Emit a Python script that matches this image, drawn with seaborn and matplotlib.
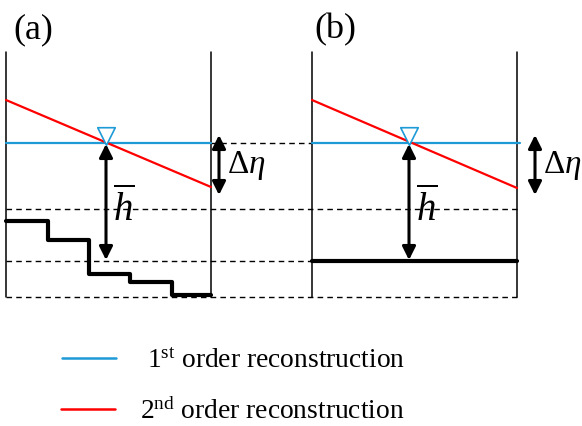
import seaborn as sns
import matplotlib.pyplot as plt
import numpy as np

# schematic coordinates in picture units (x right, y down)
walls_a = [6, 211]
walls_b = [312, 517]
wall_top, wall_bottom = 52, 297

eta_1st = 143                      # water level, 1st order reconstruction
eta_2nd_a = [100, 187]             # 2nd order, left and right face
eta_2nd_b = [100, 188]

cell_edges_a = [6, 48, 89, 130, 172, 211]
bed_a = [221, 240, 274, 282, 295]
bed_b = 261

dash_levels = [209, 261, 297]
h_arrow_x = [106, 409]
deta_arrow_x = [219, 535]
deta_range = [135, 195]

panel_labels = ["(a)", "(b)"]
legend_labels = ["1$^{\\mathrm{st}}$ order reconstruction",
                 "2$^{\\mathrm{nd}}$ order reconstruction"]

blue = "#1e9ad6"
red = "#ff0000"

sns.set_style("white")
plt.rcParams["font.family"] = ["Liberation Serif", "DejaVu Serif"]
plt.rcParams["text.color"] = "black"
plt.rcParams["mathtext.fontset"] = "custom"
plt.rcParams["mathtext.rm"] = "Liberation Serif"
plt.rcParams["mathtext.it"] = "Liberation Serif:italic"

fig = plt.figure(figsize=(5.82, 4.26), dpi=100)
ax = fig.add_axes([0, 0, 1, 1])
ax.set_xlim(0, 582)
ax.set_ylim(426, 0)
ax.axis("off")


def line(x, y, **kw):
    sns.lineplot(x=x, y=y, sort=False, estimator=None, ax=ax, **kw)


dash = dict(color="black", lw=1, linestyle=(0, (4, 3)))
# dashed reference levels
line([walls_a[1], walls_b[0]], [eta_1st, eta_1st], **dash)
line([walls_a[0], walls_b[1]], [dash_levels[0]] * 2, **dash)
line([walls_a[0], walls_b[0]], [dash_levels[1]] * 2, **dash)
line([walls_a[0], walls_b[1]], [dash_levels[2]] * 2, **dash)

arrow = dict(arrowstyle="<|-|>", color="black", lw=2.2,
             mutation_scale=20, shrinkA=0, shrinkB=0)
for walls, eta2, hx, dx in [(walls_a, eta_2nd_a, h_arrow_x[0], deta_arrow_x[0]),
                            (walls_b, eta_2nd_b, h_arrow_x[1], deta_arrow_x[1])]:
    for w in walls:
        line([w, w], [wall_top, wall_bottom], color="black", lw=1.1)
    line([walls[0], walls[1] + 3 * (walls is walls_b)], [eta_1st, eta_1st],
         color=blue, lw=1.6)
    line(walls, eta2, color=red, lw=1.6)
    ax.annotate("", xy=(hx, eta_1st + 1), xytext=(hx, dash_levels[1] - 1),
                arrowprops=arrow)
    ax.annotate("", xy=(dx, deta_range[0]), xytext=(dx, deta_range[1]),
                arrowprops=arrow)
    ax.text(hx + 18, dash_levels[0] + 1, "$\\overline{h}$", fontsize=28,
            ha="center", va="center")
    ax.text(dx + 8, 166, "$\\Delta\\eta$", fontsize=24, ha="left", va="center")
    sns.scatterplot(x=[hx], y=[eta_1st - 7.5], marker="v", s=160,
                    facecolor="white", edgecolor=blue, linewidth=1.2, ax=ax,
                    zorder=5)

# beds
line(cell_edges_a, bed_a + [bed_a[-1]], color="black", lw=3,
     drawstyle="steps-post")
line(walls_b, [bed_b, bed_b], color="black", lw=3)

ax.text(33, 30, panel_labels[0], fontsize=26, ha="center", va="center")
ax.text(335, 30, panel_labels[1], fontsize=26, ha="center", va="center")

# legend
line([62, 116], [358, 358], color=blue, lw=1.8)
line([61, 115], [409, 409], color=red, lw=1.8)
ax.text(147, 361, legend_labels[0], fontsize=19.8, ha="left", va="center")
ax.text(140, 412, legend_labels[1], fontsize=19.8, ha="left", va="center")

fig.savefig("out.png", dpi=100)
